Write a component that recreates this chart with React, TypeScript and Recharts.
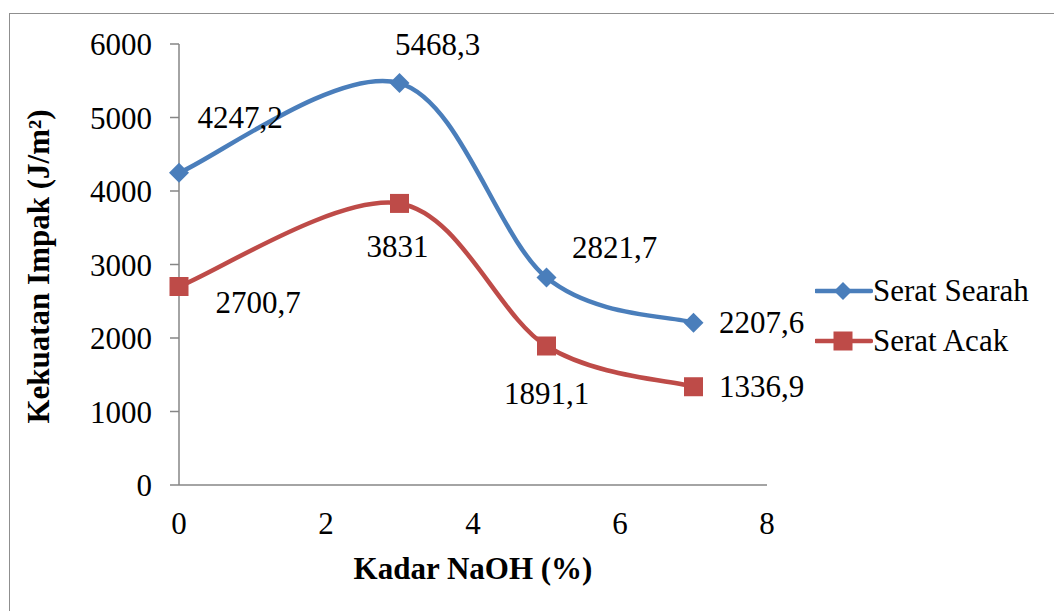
import { LineChart, Line, XAxis, YAxis, Legend, LabelList } from 'recharts'

const naoh = [0, 3, 5, 7]
const seratSearah = [4247.2, 5468.3, 2821.7, 2207.6]
const seratAcak = [2700.7, 3831, 1891.1, 1336.9]
const xTicks = [0, 2, 4, 6, 8]
const yTicks = [0, 1000, 2000, 3000, 4000, 5000, 6000]

// where each value label sits relative to its point (px)
const searahLabelShift = [[61, -55], [38, -39], [68, -30], [68, 0]]
const acakLabelShift = [[79, 16], [-2, 43], [0, 47], [68, 0]]

const data = naoh.map((x, i) => ({ x, searah: seratSearah[i], acak: seratAcak[i] }))

const FONT = '"Liberation Serif", "Times New Roman", serif'
const FS = 31
const BLUE = '#4A7EBB'
const RED = '#BE4B48'
const AXIS = '#868686'

// excel-like smoothed line (catmull-rom through the points)
const smooth = (context: any) => {
  let pts: number[][] = []
  return {
    areaStart() {},
    areaEnd() {},
    lineStart() { pts = [] },
    point(x: number, y: number) { pts.push([+x, +y]) },
    lineEnd() {
      const n = pts.length
      if (!n) return
      context.moveTo(pts[0][0], pts[0][1])
      for (let i = 0; i < n - 1; i++) {
        const p0 = pts[i - 1] || pts[i]
        const p1 = pts[i]
        const p2 = pts[i + 1]
        const p3 = pts[i + 2] || p2
        context.bezierCurveTo(
          p1[0] + (p2[0] - p0[0]) / 6, p1[1] + (p2[1] - p0[1]) / 6,
          p2[0] - (p3[0] - p1[0]) / 6, p2[1] - (p3[1] - p1[1]) / 6,
          p2[0], p2[1]
        )
      }
    },
  }
}

const Diamond = ({ cx, cy, r = 10, fill }: any) => (
  <path d={`M${cx},${cy - r}L${cx + r},${cy}L${cx},${cy + r}L${cx - r},${cy}Z`} fill={fill} />
)
const Square = ({ cx, cy, s = 18, fill }: any) => (
  <rect x={cx - s / 2} y={cy - s / 2} width={s} height={s} fill={fill} />
)

const fmt = (v: number) => String(v).replace('.', ',')

const makeLabel = (shift: number[][]) => (props: any) => {
  const { x, y, value, index } = props
  const [dx, dy] = shift[index] || [0, 0]
  return (
    <text x={x + dx} y={y + dy} textAnchor="middle" dominantBaseline="central"
      fontFamily={FONT} fontSize={FS} fill="#000">
      {fmt(value)}
    </text>
  )
}

const LegendBox = () => {
  const rows = [
    { name: 'Serat Searah', color: BLUE, mark: 'd' },
    { name: 'Serat Acak', color: RED, mark: 's' },
  ]
  return (
    <div style={{ fontFamily: FONT, fontSize: FS, color: '#000' }}>
      {rows.map((r) => (
        <div key={r.name} style={{ display: 'flex', alignItems: 'center', height: 50 }}>
          <svg width={58} height={24}>
            <line x1={1} y1={12} x2={56} y2={12} stroke={r.color} strokeWidth={4.5} strokeLinecap="round" />
            {r.mark === 'd'
              ? <Diamond cx={28} cy={12} r={9} fill={r.color} />
              : <Square cx={28} cy={12} s={19} fill={r.color} />}
          </svg>
          <span style={{ lineHeight: '30px' }}>{r.name}</span>
        </div>
      ))}
    </div>
  )
}

export default function App() {
  return (
    <div style={{ position: 'absolute', left: 0, top: 0, width: 1054, height: 611, overflow: 'hidden', background: '#fff' }}>
      <div style={{ position: 'absolute', left: 9, top: 13, width: 1200, height: 800, border: '1px solid #8f8f8f' }} />
      <LineChart width={1054} height={611} data={data}
        margin={{ top: 44, right: 287, bottom: 0, left: 10 }}>
        <XAxis dataKey="x" type="number" domain={[0, 8]} ticks={xTicks} height={126}
          axisLine={{ stroke: AXIS, strokeWidth: 1.5 }} tickLine={false} tickSize={0} tickMargin={27}
          tick={{ fontFamily: FONT, fontSize: FS, fill: '#000' }}
          label={(p: any) => {
            const vb = p.viewBox
            return (
              <text x={vb.x + vb.width / 2} y={568} textAnchor="middle" dominantBaseline="central"
                fontFamily={FONT} fontSize={FS} fontWeight="bold" fill="#000">Kadar NaOH (%)</text>
            )
          }} />
        <YAxis type="number" domain={[0, 6000]} ticks={yTicks} width={169}
          axisLine={{ stroke: AXIS, strokeWidth: 1.5 }} tickLine={{ stroke: AXIS, strokeWidth: 1.5 }}
          tickSize={9} tickMargin={18}
          tick={{ fontFamily: FONT, fontSize: FS, fill: '#000' }}
          label={(p: any) => {
            const vb = p.viewBox
            const cx = vb.x + 28
            const cy = vb.y + vb.height / 2 + 2
            return (
              <text x={cx} y={cy} transform={`rotate(-90 ${cx} ${cy})`} textAnchor="middle" dominantBaseline="central"
                fontFamily={FONT} fontSize={FS} fontWeight="bold" fill="#000">Kekuatan Impak (J/m²)</text>
            )
          }} />
        <Legend layout="horizontal" verticalAlign="middle" align="center" content={<LegendBox />}
          wrapperStyle={{ left: 815, top: 266, width: 240 }} />
        <Line dataKey="searah" name="Serat Searah" type={smooth as any} stroke={BLUE} strokeWidth={4.5}
          isAnimationActive={false}
          dot={(p: any) => <Diamond key={`sd${p.index}`} cx={p.cx} cy={p.cy} r={10} fill={BLUE} />}
          activeDot={false}>
          <LabelList dataKey="searah" content={makeLabel(searahLabelShift)} />
        </Line>
        <Line dataKey="acak" name="Serat Acak" type={smooth as any} stroke={RED} strokeWidth={4.5}
          isAnimationActive={false}
          dot={(p: any) => <Square key={`ad${p.index}`} cx={p.cx} cy={p.cy} s={19} fill={RED} />}
          activeDot={false}>
          <LabelList dataKey="acak" content={makeLabel(acakLabelShift)} />
        </Line>
      </LineChart>
    </div>
  )
}
